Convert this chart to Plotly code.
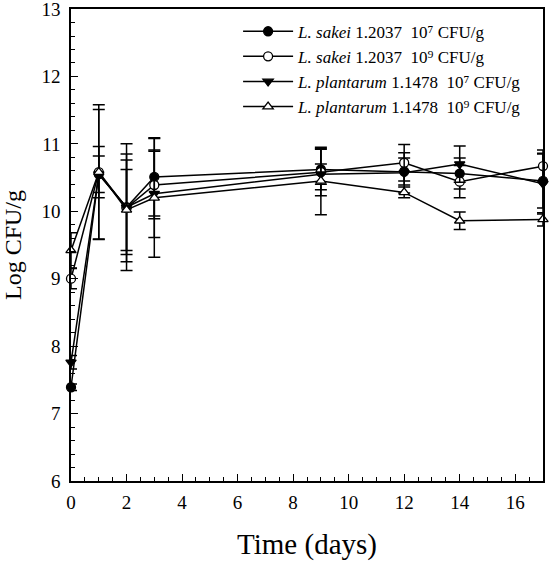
import plotly.graph_objects as go

days = [0, 1, 2, 3, 9, 12, 14, 17]

sakei7 = [7.39, 10.55, 10.06, 10.51, 10.62, 10.59, 10.56, 10.45]
sakei7_err = [0.05, 0.96, 0.94, 0.58, 0.30, 0.20, 0.23, 0.40]

sakei9 = [9.00, 10.58, 10.05, 10.39, 10.58, 10.72, 10.44, 10.67]
sakei9_err = [0.15, 0.38, 0.80, 0.50, 0.35, 0.27, 0.24, 0.24]

plant7 = [7.76, 10.55, 10.06, 10.26, 10.55, 10.57, 10.70, 10.41]
plant7_err = [0.10, 0.27, 0.70, 0.65, 0.15, 0.30, 0.27, 0.45]

plant9 = [9.42, 10.58, 10.02, 10.20, 10.45, 10.28, 9.86, 9.88]
plant9_err = [0.26, 1.00, 0.60, 0.88, 0.50, 0.08, 0.13, 0.10]

names = [
    "<i>L. sakei</i> 1.2037  10⁷ CFU/g",
    "<i>L. sakei</i> 1.2037  10⁹ CFU/g",
    "<i>L. plantarum</i> 1.1478  10⁷ CFU/g",
    "<i>L. plantarum</i> 1.1478  10⁹ CFU/g",
]
series = [sakei7, sakei9, plant7, plant9]
errors = [sakei7_err, sakei9_err, plant7_err, plant9_err]
symbols = ["circle", "circle", "triangle-down", "triangle-up"]
fills = ["black", "white", "black", "white"]

fig = go.Figure()
for name, ys, es, sym, fc in zip(names, series, errors, symbols, fills):
    fig.add_trace(go.Scatter(
        x=days, y=ys, name=name, mode="lines+markers",
        line=dict(color="black", width=1.5),
        marker=dict(symbol=sym, size=9, color=fc, line=dict(color="black", width=1.3)),
        error_y=dict(type="data", array=es, visible=True, color="black", thickness=1.5, width=6),
        cliponaxis=False,
    ))

font_family = "Liberation Serif, Times New Roman, serif"
axis_common = dict(
    showline=True, linecolor="black", linewidth=1.5, mirror=True,
    ticks="inside", ticklen=7, tickwidth=1.2, tickcolor="black",
    showgrid=False, zeroline=False, automargin=False,
    ticklabeloverflow="allow",
    tickfont=dict(family=font_family, size=19, color="black"),
)
fig.update_xaxes(range=[-0.0005, 17.0005], tickvals=[0, 2, 4, 6, 8, 10, 12, 14, 16],
                 minor=dict(dtick=0.5, tick0=0, ticks="inside", ticklen=4, tickcolor="black", tickwidth=1),
                 ticklabelstandoff=3,
                 title=dict(text="Time (days)", font=dict(family=font_family, size=29, color="black"), standoff=22),
                 **axis_common)
fig.update_yaxes(range=[5.9995, 13.0005], tickvals=[6, 7, 8, 9, 10, 11, 12, 13],
                 minor=dict(dtick=0.2, tick0=6, ticks="inside", ticklen=4, tickcolor="black", tickwidth=1),
                 ticklabelstandoff=5,
                 title=dict(text="Log CFU/g", font=dict(family=font_family, size=24, color="black"), standoff=14),
                 **axis_common)

fig.update_layout(
    width=550, height=561,
    margin=dict(l=71, r=7, t=9, b=80),
    plot_bgcolor="white", paper_bgcolor="white",
    font=dict(family=font_family, color="black"),
    legend=dict(x=0.354, y=0.99, xanchor="left", yanchor="top",
                font=dict(family=font_family, size=17, color="black"),
                bgcolor="rgba(0,0,0,0)", tracegroupgap=0, itemwidth=50),
    showlegend=True,
)

fig.write_html("out.html", config={"displayModeBar": False},
               post_script="document.body.style.margin='0';document.body.style.overflow='hidden';")
